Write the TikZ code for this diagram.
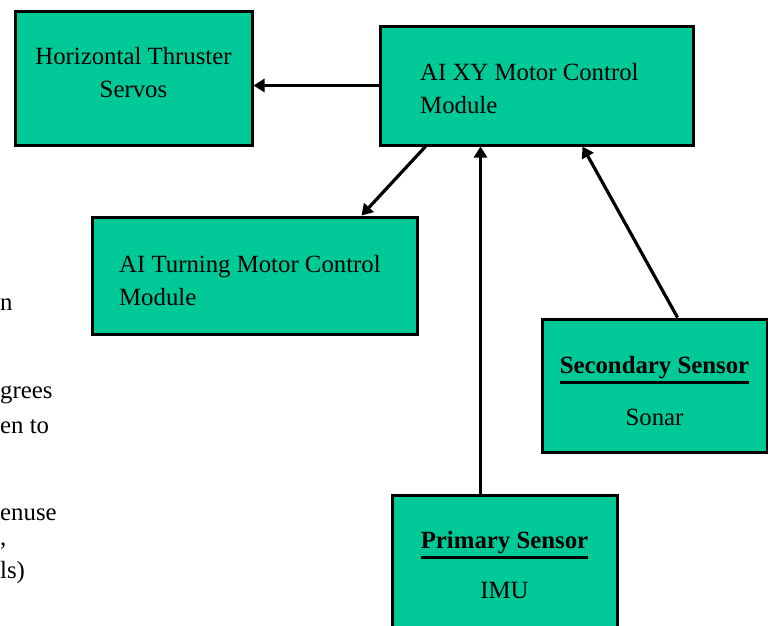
\documentclass[tikz,border=0pt]{standalone}
\usepackage{fontspec}
\setmainfont{Liberation Serif}
\usetikzlibrary{arrows.meta,calc}
\definecolor{boxfill}{RGB}{0,201,152}
% heavy underline used for the sensor headings
\newcommand{\heavyul}[1]{\vtop{\hbox{#1}\kern1.5pt\hrule height 3pt}}

\begin{document}
\begin{tikzpicture}[x=1pt,y=-1pt,
  box/.style={draw=black, line width=3pt, fill=boxfill, inner sep=0pt},
  txt/.style={inner sep=0pt, font=\fontsize{24.8}{33}\selectfont},
  arr/.style={line width=3.2pt, -{Triangle[length=11pt,width=13pt]}},
  frag/.style={anchor=base west, inner sep=0pt, font=\fontsize{24.8}{33}\selectfont}]
\useasboundingbox (0,0) rectangle (768,625);
\clip (0,0) rectangle (768,625);

% left-hand text column
\node[frag] (f1) at (0,310) {n};
\node[frag] (f2) at (0,398) {grees};
\node[frag] (f3) at (0,433) {en to};
\node[frag] (f4) at (0,520) {enuse};
\node[frag] (f5) at (0,545) {,};
\node[frag] (f6) at (0,578) {ls)};

% blocks
\node[box, minimum width=237pt, minimum height=134pt] (hts) at (133.5,78.5) {};
\node[box, minimum width=313pt, minimum height=119pt] (xy) at (536.5,85.5) {};
\node[box, minimum width=325pt, minimum height=117pt] (turn) at (254.5,275.5) {};
\node[box, minimum width=225pt, minimum height=133pt] (sec) at (654.5,385.5) {};
\node[box, minimum width=225pt, minimum height=133pt] (prim) at (504.5,561.5) {};

% block texts
\node[txt, align=center] (htsT) at ($(hts.center)+(0,-6)$) {Horizontal Thruster\\Servos};
\node[txt, align=left, anchor=west] (xyT) at ($(xy.west)+(41.5,3)$) {AI XY Motor Control\\Module};
\node[txt, align=left, anchor=west] (turnT) at ($(turn.west)+(28.5,5)$) {AI Turning Motor Control\\Module};
\node[txt, align=center] (secT) at ($(sec.center)+(0,6)$) {\textbf{\heavyul{Secondary Sensor}}\\[19pt]Sonar};
\node[txt, align=center] (primT) at ($(prim.center)+(0,4)$) {\textbf{\heavyul{Primary Sensor}}\\[17pt]IMU};

% connections
\coordinate (pa) at ($(prim.north west)+(90,0)$);
\draw[arr] (xy.west) -- (xy.west -| hts.east);
\draw[arr] ($(xy.south west)+(47,0)$) -- ($(turn.north east)+(-57,0)$);
\draw[arr] (pa) -- (pa |- xy.south);
\draw[arr] ($(sec.north west)+(137,0)$) -- ($(xy.south west)+(204,0)$);
\end{tikzpicture}
\end{document}
